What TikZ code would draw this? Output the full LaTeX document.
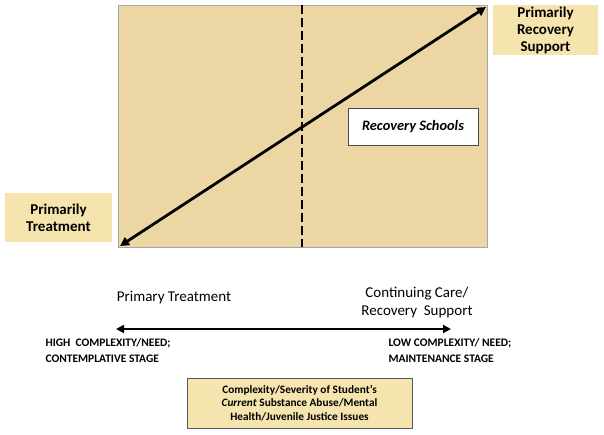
\documentclass[tikz,border=0pt]{standalone}
\usepackage{fontspec}
\setmainfont{Carlito}
\usetikzlibrary{arrows.meta}
\definecolor{paper}{RGB}{236,214,164}
\definecolor{tanbox}{RGB}{246,228,174}
\tikzset{
  lbl/.style={fill=tanbox, inner sep=0pt, align=center, font=\bfseries\fontsize{15}{17}\selectfont},
  axislbl/.style={align=center, font=\fontsize{15}{18}\selectfont},
  caplbl/.style={align=left, anchor=west, font=\bfseries\fontsize{11.5}{16}\selectfont},
  bigarrow/.style={line width=2.8pt, {Triangle[length=9pt,width=9pt]}-{Triangle[length=9pt,width=9pt]}},
}
\begin{document}
\begin{tikzpicture}[x=1pt,y=1pt]
\useasboundingbox (0,0) rectangle (604,434);
% panel
\node[draw=gray!70, fill=paper, minimum width=369pt, minimum height=242pt, inner sep=0pt, anchor=north west] (panel) at (118,429) {};
\coordinate (ll) at (120,188);
\coordinate (ur) at (486,427);
\coordinate (dtop) at (302,429);
\coordinate (dbot) at (302,187);
\draw[line width=2.6pt, dash pattern=on 9pt off 4pt] (dtop) -- (dbot);
\draw[bigarrow] (ll) -- (ur);
\node[draw=gray!60!black, fill=white, minimum width=130pt, minimum height=37pt, inner sep=0pt, font=\bfseries\itshape\fontsize{14.4}{16}\selectfont] (rs) at (413,307.5) {Recovery Schools};
% side labels
\node[lbl, minimum width=107pt, minimum height=49pt] (pt) at (58.5,216.5) {Primarily\\Treatment};
\node[lbl, minimum width=105pt, minimum height=50pt] (prs) at (545.5,404) {Primarily\\Recovery\\Support};
% bottom axis
\node[axislbl] (ptx) at (174,136) {Primary Treatment};
\node[axislbl] (ccx) at (417,132) {Continuing Care/\\Recovery\ \ Support};
\coordinate (al) at (116,105);
\coordinate (ar) at (451,105);
\draw[line width=1.8pt, {Triangle[length=8pt,width=8pt]}-{Triangle[length=8pt,width=8pt]}] (al) -- (ar);
\node[caplbl] (high) at (42,83) {HIGH\ \ COMPLEXITY/NEED;\\CONTEMPLATIVE STAGE};
\node[caplbl] (low) at (385,83) {LOW COMPLEXITY/ NEED;\\MAINTENANCE STAGE};
\node[draw=gray!70!black, fill=tanbox, minimum width=225pt, minimum height=50pt, inner sep=0pt, align=center, font=\bfseries\fontsize{11.3}{13.5}\selectfont] (cx) at (299.5,31) {Complexity/Severity of Student's\\\textit{Current} Substance Abuse/Mental\\Health/Juvenile Justice Issues};
\end{tikzpicture}
\end{document}
